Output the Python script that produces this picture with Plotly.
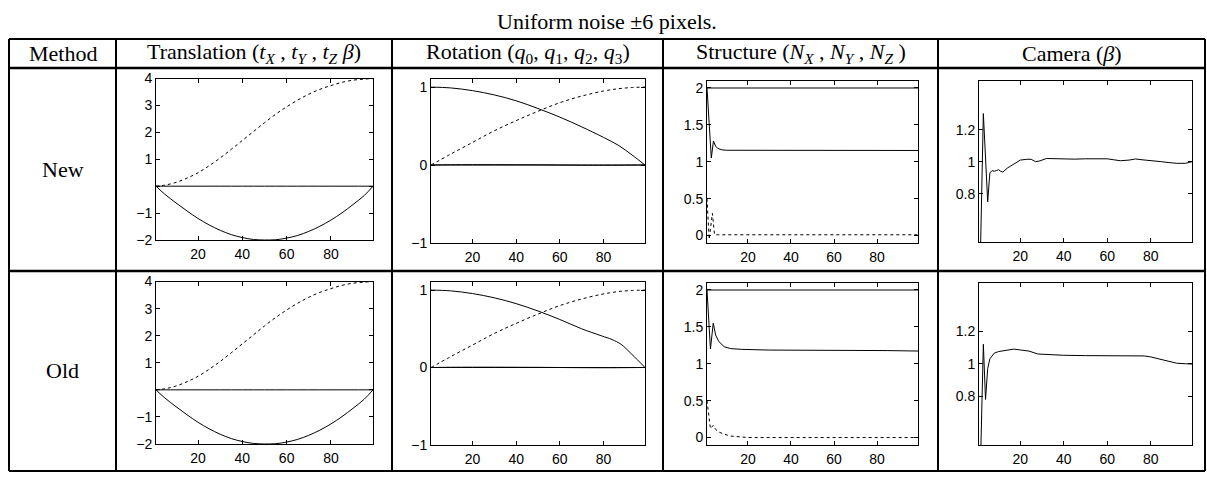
import plotly.graph_objects as go

W, H = 1207, 480

# ---------------- data ----------------
# Translation, row "New"
trans_new_x = [1, 5, 10, 15, 20, 25, 30, 35, 40, 45, 50, 55, 60, 65, 70, 75, 80, 85, 90, 95, 99]
trans_new_ty = [0.0, 0.04, 0.14, 0.3, 0.5, 0.76, 1.05, 1.37, 1.7, 2.03, 2.36, 2.67, 2.95, 3.2, 3.42, 3.6, 3.74, 3.86, 3.94, 3.98, 4.0]
trans_new_tx = [0.0, -0.3, -0.62, -0.92, -1.2, -1.44, -1.64, -1.8, -1.91, -1.98, -2.0, -1.99, -1.93, -1.83, -1.68, -1.49, -1.26, -0.99, -0.68, -0.35, 0.0]
trans_new_tz = [0.0] * 21
# Translation, row "Old"
trans_old_x = [1, 5, 10, 15, 20, 25, 30, 35, 40, 45, 50, 55, 60, 65, 70, 75, 80, 85, 90, 95, 99]
trans_old_ty = [0.0, 0.04, 0.14, 0.3, 0.5, 0.76, 1.05, 1.37, 1.7, 2.03, 2.36, 2.67, 2.95, 3.2, 3.42, 3.6, 3.74, 3.86, 3.94, 3.98, 4.0]
trans_old_tx = [0.0, -0.3, -0.62, -0.92, -1.2, -1.44, -1.64, -1.8, -1.91, -1.98, -2.0, -1.99, -1.93, -1.83, -1.68, -1.49, -1.26, -0.99, -0.68, -0.35, 0.0]
trans_old_tz = [0.0] * 21

# Rotation
rot_new_x = [1, 10, 20, 30, 40, 50, 60, 70, 80, 87, 93, 99]
rot_new_q0 = [1.0, 0.99, 0.955, 0.9, 0.825, 0.725, 0.615, 0.49, 0.355, 0.25, 0.13, 0.0]
rot_new_q3 = [0.0, 0.14, 0.29, 0.44, 0.57, 0.69, 0.8, 0.885, 0.95, 0.98, 0.995, 1.0]
rot_new_q1 = [0.0] * 12
rot_new_q2 = [0.0, 0.003, 0.004, 0.004, 0.003, 0.002, 0.0, -0.002, -0.003, -0.002, -0.001, 0.0]
rot_old_x = [1, 10, 20, 30, 40, 50, 60, 70, 79, 84, 88, 93, 99]
rot_old_q0 = [1.0, 0.99, 0.955, 0.9, 0.825, 0.73, 0.62, 0.5, 0.41, 0.36, 0.3, 0.17, 0.0]
rot_old_q3 = [0.0, 0.14, 0.29, 0.44, 0.57, 0.69, 0.8, 0.885, 0.945, 0.97, 0.985, 0.995, 1.0]
rot_old_q1 = [0.0] * 13
rot_old_q2 = [0.0, 0.003, 0.004, 0.004, 0.003, 0.002, 0.0, -0.002, -0.003, -0.003, -0.002, -0.001, 0.0]

# Structure
str_top_x = [1, 99]
str_new_nz = [2.0, 2.0]
str_old_nz = [2.0, 2.0]
str_new_x = [1, 3, 4, 5, 6, 8, 10, 20, 40, 60, 80, 99]
str_new_nx = [2.0, 1.05, 1.28, 1.21, 1.18, 1.16, 1.155, 1.155, 1.158, 1.158, 1.156, 1.152]
str_new_dx = [1, 2, 3.5, 4.5, 6, 20, 40, 60, 80, 99]
str_new_ny = [0.5, -0.05, 0.3, 0.01, 0.01, 0.01, 0.01, 0.01, 0.01, 0.01]
str_old_x = [1, 2.6, 3.9, 5, 6.5, 9, 12, 17, 30, 50, 70, 85, 99]
str_old_nx = [2.0, 1.2, 1.55, 1.39, 1.3, 1.23, 1.205, 1.195, 1.185, 1.185, 1.182, 1.178, 1.172]
str_old_dx = [1, 2.6, 3.9, 5, 6.5, 9, 12, 16, 20, 40, 60, 80, 99]
str_old_ny = [0.5, 0.12, 0.165, 0.11, 0.075, 0.045, 0.02, 0.008, 0.0, 0.0, 0.0, 0.0, 0.0]

# Camera
cam_new_x = [1, 3, 5, 6, 7, 8, 9, 10, 11, 12, 14, 16, 18, 20, 23, 25, 27, 29, 32, 36, 40, 45, 50, 55, 60, 63, 66, 70, 73, 76, 80, 85, 88, 92, 96, 99]
cam_new_b = [0.0, 1.3, 0.75, 0.93, 0.945, 0.94, 0.945, 0.95, 0.94, 0.935, 0.96, 0.975, 0.99, 1.01, 1.015, 1.015, 1.0, 1.005, 1.02, 1.018, 1.017, 1.016, 1.018, 1.017, 1.018, 1.012, 1.006, 1.01, 1.017, 1.012, 1.008, 1.0, 0.995, 0.99, 0.99, 1.0]
cam_old_x = [1, 3, 4, 5, 6, 8, 10, 12, 14, 17, 20, 24, 28, 32, 40, 50, 60, 70, 77, 80, 84, 88, 92, 96, 99]
cam_old_b = [0.0, 1.12, 0.78, 0.97, 1.03, 1.065, 1.075, 1.08, 1.082, 1.09, 1.085, 1.078, 1.06, 1.056, 1.052, 1.05, 1.05, 1.05, 1.048, 1.042, 1.03, 1.015, 1.003, 1.0, 0.998]

x_ticks = [20, 40, 60, 80]
trans_ticks = [-2, -1, 0, 1, 2, 3, 4]
trans_ticktext = ["\u22122", "\u22121", "", "1", "2", "3", "4"]
rot_ticks = [-1, 0, 1]
rot_ticktext = ["\u22121", "0", "1"]
str_ticks = [0, 0.5, 1, 1.5, 2]
str_ticktext = ["0", "0.5", "1", "1.5", "2"]
cam_ticks = [0.8, 1, 1.2]
cam_ticktext = ["0.8", "1", "1.2"]

title_text = "Uniform noise \u00b16 pixels."
headers = ["Method",
           "Translation (<i>t</i><sub><i>X</i></sub> , <i>t</i><sub><i>Y</i></sub> , <i>t</i><sub><i>Z</i></sub> <i>\u03b2</i>)",
           "Rotation (<i>q</i><sub>0</sub>, <i>q</i><sub>1</sub>, <i>q</i><sub>2</sub>, <i>q</i><sub>3</sub>)",
           "Structure (<i>N</i><sub><i>X</i></sub> , <i>N</i><sub><i>Y</i></sub> , <i>N</i><sub><i>Z</i></sub> )",
           "Camera (<i>\u03b2</i>)"]
row_labels = ["New", "Old"]

# ---------------- layout helpers ----------------
def px(x):
    return x / W

def py(y):
    return 1 - y / H

col_lines = [9, 116, 392, 663, 938, 1205]
row_lines = [32, 62, 272, 479]

fig = go.Figure()

SOLID = dict(color="black", width=1)
DASH = dict(color="black", width=1, dash="3px,3px")
GRAY = dict(color="#555555", width=1.5)

panels = [
    # (x0, x1, ytop, ybot, yrange, tickvals, ticktext, traces)
    (156, 373, 73, 240, [-2, 4], trans_ticks, trans_ticktext,
     [(trans_new_x, trans_new_tz, SOLID, "spline"), (trans_new_x, trans_new_tx, SOLID, "spline"), (trans_new_x, trans_new_ty, DASH, "spline")]),
    (431, 645, 73, 243, [-1, 1.11], rot_ticks, rot_ticktext,
     [(rot_new_x, rot_new_q1, SOLID, "spline"), (rot_new_x, rot_new_q2, SOLID, "spline"), (rot_new_x, rot_new_q0, SOLID, "spline"), (rot_new_x, rot_new_q3, DASH, "spline")]),
    (707, 918, 75, 243, [-0.1, 2.1], str_ticks, str_ticktext,
     [(str_top_x, str_new_nz, GRAY, "linear"), (str_new_x, str_new_nx, SOLID, "linear"), (str_new_dx, str_new_ny, DASH, "linear")]),
    (979, 1192, 76, 242, [0.5, 1.5], cam_ticks, cam_ticktext,
     [(cam_new_x, cam_new_b, SOLID, "linear")]),
    (156, 373, 283, 451, [-2, 4], trans_ticks, trans_ticktext,
     [(trans_old_x, trans_old_tz, SOLID, "spline"), (trans_old_x, trans_old_tx, SOLID, "spline"), (trans_old_x, trans_old_ty, DASH, "spline")]),
    (431, 645, 283, 452, [-1, 1.11], rot_ticks, rot_ticktext,
     [(rot_old_x, rot_old_q1, SOLID, "spline"), (rot_old_x, rot_old_q2, SOLID, "spline"), (rot_old_x, rot_old_q0, SOLID, "spline"), (rot_old_x, rot_old_q3, DASH, "spline")]),
    (707, 918, 284, 452, [-0.1, 2.1], str_ticks, str_ticktext,
     [(str_top_x, str_old_nz, GRAY, "linear"), (str_old_x, str_old_nx, SOLID, "linear"), (str_old_dx, str_old_ny, DASH, "linear")]),
    (979, 1192, 284, 452, [0.5, 1.5], cam_ticks, cam_ticktext,
     [(cam_old_x, cam_old_b, SOLID, "linear")]),
]

tick_font = dict(family="Liberation Sans, Arial, sans-serif", size=14, color="black")
layout_axes = {}
for i, (x0, x1, yt, yb, yr, tv, tt, traces) in enumerate(panels, start=1):
    xa = "xaxis" if i == 1 else f"xaxis{i}"
    ya = "yaxis" if i == 1 else f"yaxis{i}"
    xr = "x" if i == 1 else f"x{i}"
    yrf = "y" if i == 1 else f"y{i}"
    layout_axes[xa] = dict(domain=[px(x0), px(x1)], anchor=yrf, range=[1, 99],
                           tickvals=x_ticks, ticks="inside", ticklen=4, tickcolor="black",
                           showline=True, linecolor="black", linewidth=1, mirror="allticks",
                           showgrid=False, zeroline=False, tickfont=tick_font,
                           ticklabelstandoff=1, fixedrange=True)
    layout_axes[ya] = dict(domain=[py(yb), py(yt)], anchor=xr, range=yr,
                           tickvals=tv, ticktext=tt, ticks="inside", ticklen=4, tickcolor="black",
                           showline=True, linecolor="black", linewidth=1, mirror="allticks",
                           showgrid=False, zeroline=False, tickfont=tick_font,
                           ticklabelstandoff=0, fixedrange=True)
    for (xs, ys, ln, shape) in traces:
        fig.add_trace(go.Scatter(x=xs, y=ys, mode="lines", line=dict(shape=shape, **ln),
                                 xaxis=xr, yaxis=yrf, showlegend=False, hoverinfo="skip"))

shapes = []
for yl in row_lines:
    w = 2.5 if yl in (62, 272) else 2
    shapes.append(dict(type="line", xref="paper", yref="paper",
                       x0=px(col_lines[0]), x1=px(col_lines[-1]), y0=py(yl), y1=py(yl),
                       line=dict(color="black", width=w)))
for xl in col_lines:
    shapes.append(dict(type="line", xref="paper", yref="paper",
                       x0=px(xl), x1=px(xl), y0=py(row_lines[0]), y1=py(row_lines[-1]),
                       line=dict(color="black", width=2)))

serif = dict(family="Liberation Serif, Times New Roman, serif", size=22, color="black")
annotations = [dict(text=title_text, x=px(607), y=py(14), xref="paper", yref="paper",
                    showarrow=False, xanchor="center", yanchor="middle", font=serif)]
for k, htxt in enumerate(headers):
    cx = (col_lines[k] + col_lines[k + 1]) / 2
    annotations.append(dict(text=htxt, x=px(cx), y=py(47), xref="paper", yref="paper",
                            showarrow=False, xanchor="center", yanchor="middle", font=serif))
for k, rl in enumerate(row_labels):
    cy = (row_lines[k + 1] + row_lines[k + 2]) / 2
    annotations.append(dict(text=rl, x=px(62.5), y=py(cy), xref="paper", yref="paper",
                            showarrow=False, xanchor="center", yanchor="middle", font=serif))

fig.update_layout(width=W, height=H, margin=dict(l=0, r=0, t=0, b=0),
                  paper_bgcolor="white", plot_bgcolor="white",
                  shapes=shapes, annotations=annotations, **layout_axes)

fig.write_html("out.html", config={"displayModeBar": False},
               post_script="document.body.style.margin='0';document.body.style.overflow='hidden';")
